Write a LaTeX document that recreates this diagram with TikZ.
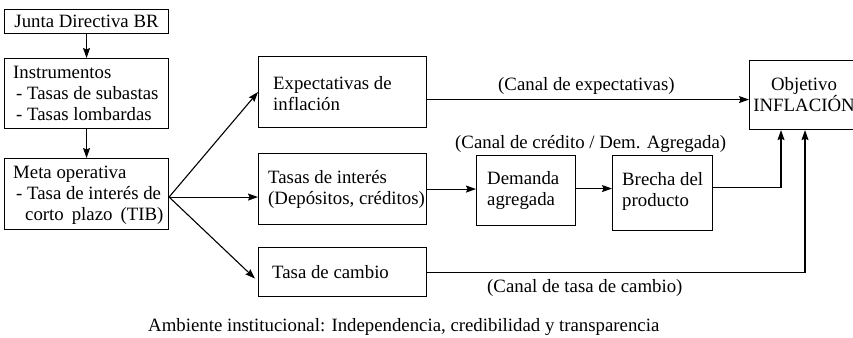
\documentclass[tikz,border=0pt]{standalone}
\usepackage{fontspec}
\setmainfont{Liberation Serif}
\usetikzlibrary{arrows.meta,calc}
\begin{document}
\begin{tikzpicture}[x=1pt,y=-1pt,
  font=\fontsize{18.8}{21}\selectfont,
  bx/.style={draw, line width=1.1pt, anchor=north west, inner sep=0pt},
  tx/.style={anchor=west, inner sep=0pt, align=left},
  arr/.style={line width=1.1pt, -{Stealth[length=10pt,width=7pt,inset=1.5pt]}},
  lbl/.style={anchor=base west, inner sep=0pt}]
\clip (0,0) rectangle (853,337);
\fill[white] (0,0) rectangle (853,337);
% boxes
\node[bx, minimum width=164pt, minimum height=24pt] (junta) at (4,9) {Junta Directiva BR};
\node[bx, minimum width=164pt, minimum height=70pt] (instr) at (4,58) {};
\node[tx] (instrt) at ($(instr.west)+(9,0)$)
  {Instrumentos\\\hspace*{3pt}- Tasas de subastas\\\hspace*{3pt}- Tasas lombardas};
\node[bx, minimum width=164pt, minimum height=71pt] (meta) at (4,158) {};
\node[tx] (metat) at ($(meta.west)+(9,1)$)
  {Meta operativa\\\hspace*{3pt}- Tasa de interés de\\\hspace*{12pt}corto\hspace{8pt}plazo\hspace{8pt}(TIB)};
\node[bx, minimum width=168pt, minimum height=71pt] (expec) at (258,56) {};
\node[tx] (expect) at ($(expec.west)+(15,2)$) {Expectativas de\\inflación};
\node[bx, minimum width=168pt, minimum height=71pt] (tasas) at (258,153) {};
\node[tx] (tasast) at ($(tasas.west)+(10,0)$) {Tasas de interés\\(Depósitos, créditos)};
\node[bx, minimum width=168pt, minimum height=49pt] (tc) at (258,247) {};
\node[tx] (tct) at ($(tc.west)+(14,0)$) {Tasa de cambio};
\node[bx, minimum width=99pt, minimum height=70pt] (dem) at (476,155) {};
\node[tx] (demt) at ($(dem.west)+(11,0)$) {Demanda\\agregada};
\node[bx, minimum width=100pt, minimum height=75pt] (brecha) at (612,155) {};
\node[tx] (brechat) at ($(brecha.west)+(10,-2)$) {Brecha del\\producto};
\node[bx, align=center, minimum width=109pt, minimum height=69pt] (obj) at (749,60)
  {Objetivo\\INFLACIÓN};
% labels
\node[lbl] (l1) at (498,90) {(Canal de expectativas)};
\node[lbl] (l2) at (455,148) {(Canal de crédito / Dem. Agregada)};
\node[lbl] (l3) at (487,292) {(Canal de tasa de cambio)};
\node[lbl] (l4) at (148,331) {Ambiente institucional: Independencia, credibilidad y transparencia};
% connectors
\draw[arr] (junta.south) -- (instr.north);
\draw[arr] (instr.south) -- (meta.north);
\coordinate (m) at ($(meta.east)+(0,3)$);
\draw[arr] (m) -- (expec.west);
\draw[arr] (m) -- (m -| tasas.west);
\coordinate (tcp) at ($(tc.west)+(-3,6.5)$);
\draw[arr] (m) -- (tcp);
\coordinate (e1) at ($(expec.east)+(0,7.5)$);
\draw[arr] (e1) -- (e1 -| obj.west);
\draw[arr] (tasas.east) -- (tasas.east -| dem.west);
\coordinate (d1) at ($(dem.east)+(0,-2)$);
\draw[arr] (d1) -- (d1 -| brecha.west);
\coordinate (b1) at ($(brecha.east)+(0,-5.5)$);
\coordinate (o1) at (781,0);
\coordinate (o2) at (805,0);
\draw[arr] (b1) -| (o1 |- obj.south);
\draw[arr] (tc.east) -| (o2 |- obj.south);
\end{tikzpicture}
\end{document}
